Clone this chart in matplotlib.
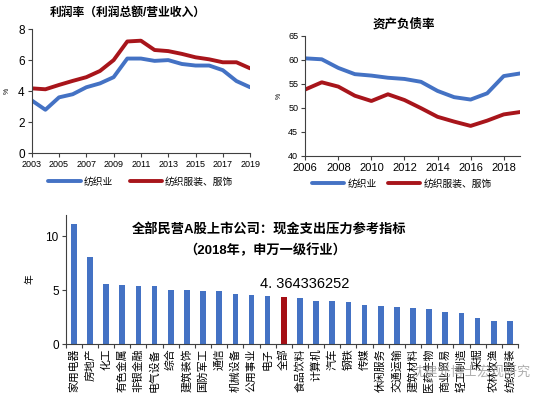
import numpy as np
import matplotlib
matplotlib.use('Agg')
import matplotlib.pyplot as plt

plt.rcParams['font.family'] = ['Liberation Sans', 'Noto Sans CJK SC', 'DejaVu Sans']
plt.rcParams['axes.unicode_minus'] = False

# profit margin (%)
years_pm = [2003, 2004, 2005, 2006, 2007, 2008, 2009, 2010, 2011, 2012, 2013, 2014, 2015, 2016, 2017, 2018, 2019]
pm_textile = [3.4, 2.8, 3.6, 3.8, 4.25, 4.5, 4.9, 6.1, 6.1, 5.95, 6.0, 5.75, 5.65, 5.65, 5.35, 4.65, 4.25]
pm_apparel = [4.18, 4.12, 4.4, 4.66, 4.9, 5.3, 6.0, 7.2, 7.25, 6.65, 6.58, 6.4, 6.18, 6.05, 5.86, 5.86, 5.47]

# debt-to-asset ratio (%)
years_da = [2006, 2007, 2008, 2009, 2010, 2011, 2012, 2013, 2014, 2015, 2016, 2017, 2018, 2019]
da_textile = [60.3, 60.1, 58.3, 57.0, 56.7, 56.25, 56.0, 55.4, 53.5, 52.2, 51.7, 53.0, 56.6, 57.15]
da_apparel = [53.8, 55.3, 54.4, 52.5, 51.4, 52.8, 51.6, 49.9, 48.1, 47.1, 46.2, 47.3, 48.6, 49.1]

# cash expenditure pressure indicator (years), 2018
industries = ['家用电器', '房地产', '化工', '有色金属', '非银金融', '电气设备', '综合', '建筑装饰',
              '国防军工', '通信', '机械设备', '公用事业', '电子', '全部', '食品饮料', '计算机',
              '汽车', '钢铁', '传媒', '休闲服务', '交通运输', '建筑材料', '医药生物', '商业贸易',
              '轻工制造', '采掘', '农林牧渔', '纺织服装']
pressure = [11.2, 8.05, 5.58, 5.49, 5.4, 5.4, 5.03, 5.03, 4.93, 4.93, 4.65, 4.56, 4.46, 4.364336252,
            4.27, 3.99, 3.99, 3.89, 3.61, 3.52, 3.42, 3.33, 3.23, 2.95, 2.86, 2.48, 2.2, 2.2]

blue = '#4472C4'
red = '#A8151B'
bar_blue = '#4472C4'
bar_red = '#A50F15'

fig = plt.figure(figsize=(5.57, 3.98), dpi=100)


def style_axes(ax):
    for s in ['top', 'right']:
        ax.spines[s].set_visible(False)
    for s in ['left', 'bottom']:
        ax.spines[s].set_color('#404040')
        ax.spines[s].set_linewidth(0.8)
    ax.tick_params(labelsize=7.5, length=3, width=0.8, color='#404040', pad=2)


# top-left: profit margin
ax1 = fig.add_axes([0.057, 0.615, 0.392, 0.312])
ax1.plot(years_pm, pm_textile, color=blue, lw=2.8, label='纺织业', solid_capstyle='round')
ax1.plot(years_pm, pm_apparel, color=red, lw=2.8, label='纺织服装、服饰', solid_capstyle='round')
ax1.set_xlim(2003, 2019)
ax1.set_ylim(0, 8)
ax1.set_xticks(range(2003, 2020, 2))
ax1.set_yticks([0, 2, 4, 6, 8])
style_axes(ax1)
ax1.tick_params(axis='x', labelsize=6.5)
ax1.tick_params(axis='y', labelsize=8.5)
ax1.set_ylabel('%', fontsize=5, labelpad=5)
ax1.text(0.44, 1.13, '利润率（利润总额/营业收入）', transform=ax1.transAxes,
         ha='center', va='center', fontsize=8.5, fontweight='bold')
ax1.legend(loc='upper center', bbox_to_anchor=(0.5, -0.12), ncol=2, frameon=False,
           fontsize=7, handlelength=3.3, columnspacing=1.8, handletextpad=0.3)

# top-right: debt-to-asset
ax2 = fig.add_axes([0.548, 0.609, 0.386, 0.301])
ax2.plot(years_da, da_textile, color=blue, lw=2.8, label='纺织业', solid_capstyle='round')
ax2.plot(years_da, da_apparel, color=red, lw=2.8, label='纺织服装、服饰', solid_capstyle='round')
ax2.set_xlim(2006, 2019)
ax2.set_ylim(40, 65)
ax2.set_xticks(range(2006, 2019, 2))
ax2.set_yticks(range(40, 66, 5))
style_axes(ax2)
ax2.tick_params(axis='y', labelsize=6.5)
ax2.tick_params(axis='x', labelsize=8)
ax2.set_ylabel('%', fontsize=5, labelpad=4)
ax2.text(0.46, 1.1, '资产负债率', transform=ax2.transAxes,
         ha='center', va='center', fontsize=9, fontweight='bold')
ax2.legend(loc='upper center', bbox_to_anchor=(0.45, -0.12), ncol=2, frameon=False,
           fontsize=7, handlelength=3.3, columnspacing=1.2, handletextpad=0.3)

# bottom: bar chart
ax3 = fig.add_axes([0.118, 0.135, 0.812, 0.325])
x = np.arange(len(industries))
colors = [bar_red if name == '全部' else bar_blue for name in industries]
ax3.bar(x, pressure, width=0.35, color=colors)
ax3.set_xlim(-0.5, len(industries) - 0.5)
ax3.set_ylim(0, 12)
ax3.set_yticks([0, 5, 10])
style_axes(ax3)
ax3.tick_params(axis='y', labelsize=8.5)
ax3.set_xticks(x)
ax3.set_xticklabels(industries, rotation=90, fontsize=7.8, va='top')
ax3.tick_params(axis='x', length=0, pad=3)
ax3.set_xticks(np.arange(-0.5, len(industries), 1), minor=True)
ax3.tick_params(axis='x', which='minor', length=3, width=0.8, color='#404040')
ax3.set_ylabel('年', fontsize=7, labelpad=8)
i_all = industries.index('全部')
ax3.text(i_all + 1.3, pressure[i_all] + 0.6, '4. 364336252', ha='center', va='bottom', fontsize=10.5)
ax3.text(0.45, 0.93, '全部民营A股上市公司：现金支出压力参考指标', transform=ax3.transAxes,
         ha='center', va='top', fontsize=9.5, fontweight='bold')
ax3.text(0.44, 0.78, '（2018年，申万一级行业）', transform=ax3.transAxes,
         ha='center', va='top', fontsize=9.5, fontweight='bold')

fig.text(0.845, 0.065, '沈建光博士宏观研究', ha='center', va='center', fontsize=9.5,
         color='#9a9a9a', alpha=0.8)

fig.savefig('out.png', dpi=100)
